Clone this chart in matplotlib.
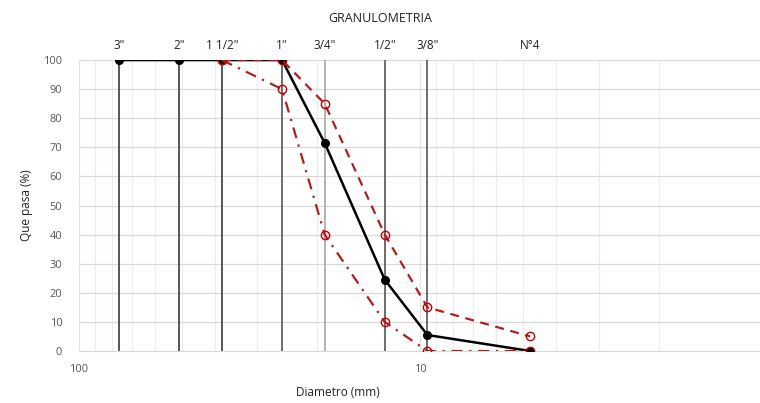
import matplotlib
matplotlib.use("Agg")
import matplotlib.pyplot as plt
from matplotlib.ticker import FixedLocator, NullFormatter, FixedFormatter
import numpy as np

plt.rcParams['font.family'] = ['Open Sans', 'DejaVu Sans']

# Data
sieve_labels = ['3"', '2"', '1 1/2"', '1"', '3/4"', '1/2"', '3/8"', 'N°4']
sieve_mm = [76.2, 50.8, 38.1, 25.4, 19.05, 12.7, 9.525, 4.76]
pasa = [100, 100, 100, 100, 71.5, 24.5, 5.5, 0]
lim_sup_mm = [38.1, 25.4, 19.05, 12.7, 9.525, 4.76]
lim_sup = [100, 100, 85, 40, 15, 5]
lim_inf_mm = [38.1, 25.4, 19.05, 12.7, 9.525, 4.76]
lim_inf = [100, 90, 40, 10, 0, 0]
vline_colors = ['#3a3a3a', '#3a3a3a', '#3a3a3a', '#555555', '#a6a6a6', '#555555', '#555555', None]

fig = plt.figure(figsize=(7.6, 4.03), dpi=100)
ax = fig.add_axes([0.1039, 0.129, 0.898, 0.722])
ax.set_xscale('log')
ax.set_xlim(100, 1)
ax.set_ylim(0, 100)

# grid
ax.xaxis.set_major_locator(FixedLocator([100, 10, 1]))
ax.xaxis.set_major_formatter(FixedFormatter(['100', '10', '']))
minors = [v * d for d in (10, 1) for v in range(2, 10)]
ax.xaxis.set_minor_locator(FixedLocator(minors))
ax.xaxis.set_minor_formatter(NullFormatter())
ax.set_yticks(range(0, 101, 10))
ax.grid(True, which='major', axis='y', color='#d9d9d9', lw=0.9)
ax.grid(True, which='major', axis='x', color='#e3e3e3', lw=0.8)
ax.grid(True, which='minor', axis='x', color='#ececec', lw=0.8)
ax.set_axisbelow(True)
for s in ['top', 'right', 'left']:
    ax.spines[s].set_visible(False)
ax.spines['bottom'].set_color('#d9d9d9')
ax.tick_params(axis='both', which='both', length=0, colors='#595959', labelsize=8)
ax.tick_params(axis='x', pad=9)
ax.tick_params(axis='y', pad=12)

# sieve vertical lines
for x, c in zip(sieve_mm, vline_colors):
    if c is not None:
        ax.vlines(x, 0, 100, color=c, lw=1.2, zorder=2)

# curves
ax.plot(sieve_mm, pasa, color='black', lw=1.8, marker='o', ms=5.5,
        markerfacecolor='black', markeredgecolor='black', zorder=4)
ax.plot(lim_sup_mm, lim_sup, color='#b01e1e', lw=1.6, ls=(0, (4, 3)), marker='o', ms=6,
        markerfacecolor='none', markeredgecolor='#c00000', zorder=5)
ax.plot(lim_inf_mm, lim_inf, color='#b01e1e', lw=1.6, ls=(0, (5, 3, 1, 3)), marker='o', ms=6,
        markerfacecolor='none', markeredgecolor='#c00000', zorder=5)

# sieve labels on top
for x, lab in zip(sieve_mm, sieve_labels):
    ax.annotate(lab, xy=(x, 1.0), xycoords=('data', 'axes fraction'),
                xytext=(0, 6), textcoords='offset points', ha='center', va='bottom',
                fontsize=8.5, color='#222222')

fig.text(0.5, 0.955, 'GRANULOMETRIA', ha='center', va='center', fontsize=9, color='#222222')
ax.set_xlabel('Diametro (mm)', fontsize=8.5, color='#222222')
ax.xaxis.set_label_coords(0.38, -0.12)
ax.set_ylabel('Que pasa (%)', fontsize=8.5, color='#222222')
ax.yaxis.set_label_coords(-0.068, 0.5)

fig.savefig('out.png', dpi=100)
